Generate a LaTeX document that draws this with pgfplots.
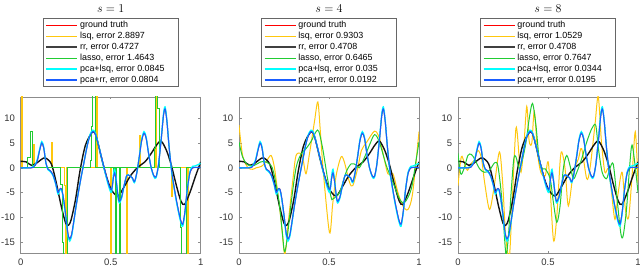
\documentclass[border=0pt]{standalone}
\usepackage{pgfplots}
\pgfplotsset{compat=1.18}
\usepackage{pgfplotstable}
\usepackage{fontspec}
\setmainfont{Liberation Sans}
\definecolor{gtred}{rgb}{1,0,0}
\definecolor{clsq}{rgb}{1,0.78,0.05}
\definecolor{crr}{rgb}{0.08,0.08,0.08}
\definecolor{crrleg}{rgb}{0.25,0.25,0.25}
\definecolor{classo}{rgb}{0.13,0.8,0.2}
\definecolor{cpl}{rgb}{0,1,1}
\definecolor{cpr}{rgb}{0.1,0.36,1}
\definecolor{axgray}{rgb}{0.55,0.55,0.55}
\definecolor{leggray}{rgb}{0.4,0.4,0.4}

\newcommand{\legline}[2]{%
  \pgfsetstrokecolor{#1}\pgfsetlinewidth{#2}%
  \pgfpathmoveto{\pgfpointorigin}\pgfpathlineto{\pgfpoint{31pt}{0pt}}%
  \pgfusepath{stroke}}

\pgfplotstableread{
x y
0 0
0.04 0
0.07 0.1
0.09 1.2
0.105 3.5
0.117 5.0
0.128 4.0
0.14 1.0
0.152 -0.3
0.165 -0.6
0.18 -1.5
0.195 -3.2
0.207 -5.0
0.217 -4.3
0.227 -4.3
0.237 -6.0
0.25 -9.5
0.262 -13.2
0.272 -14.35
0.282 -13.6
0.292 -11.5
0.31 -7.2
0.33 -3.0
0.35 0.8
0.37 4.5
0.385 6.5
0.4 7.3
0.415 6.8
0.44 3.5
0.465 -0.2
0.49 -3.5
0.505 -4.4
0.515 -2.0
0.522 -1.0
0.53 -2.5
0.545 -6.6
0.56 -6.0
0.575 -3.5
0.59 -1.5
0.605 -1.6
0.62 -2.0
0.632 -2.8
0.645 -1.0
0.66 2.5
0.672 5.5
0.685 7.0
0.697 6.0
0.71 3.0
0.725 0.0
0.74 -1.6
0.752 -1.8
0.765 0.5
0.78 5.5
0.793 10.5
0.802 11.9
0.812 9.5
0.825 4.0
0.84 -1.0
0.855 -4.5
0.87 -7.5
0.888 -10.5
0.9 -11.4
0.912 -9
0.925 -4.5
0.94 -1.0
0.955 0
0.97 0.1
1 0.1
}\gt

\pgfplotstableread{
x y
0 0
0.04 0
0.07 0.2
0.09 1.4
0.105 3.7
0.117 5.3
0.128 4.2
0.14 1.0
0.152 -0.4
0.165 -0.8
0.18 -1.6
0.195 -3.4
0.207 -5.3
0.217 -4.5
0.227 -4.5
0.237 -6.2
0.25 -9.8
0.262 -13.6
0.272 -14.8
0.282 -13.9
0.292 -11.7
0.31 -7.2
0.33 -3.0
0.35 0.8
0.37 4.6
0.385 6.7
0.4 7.6
0.415 7.0
0.44 3.5
0.465 -0.4
0.49 -3.9
0.505 -4.9
0.515 -1.5
0.522 -0.3
0.53 -2.2
0.545 -6.9
0.56 -6.2
0.575 -3.5
0.59 -1.5
0.605 -1.6
0.62 -2.1
0.632 -3.0
0.645 -1.0
0.66 2.6
0.672 5.7
0.685 7.3
0.697 6.2
0.71 3.0
0.725 0.0
0.74 -1.8
0.752 -2.0
0.765 0.5
0.78 5.7
0.793 10.8
0.802 12.3
0.812 9.7
0.825 4.0
0.84 -1.2
0.855 -4.7
0.87 -7.8
0.888 -10.8
0.9 -11.8
0.912 -9.2
0.925 -4.5
0.94 -0.8
0.955 0.3
0.97 0.4
1 0.9
}\pcalsq

\pgfplotstableread{
x y
0 1.3
0.03 1.2
0.06 0.5
0.09 1.0
0.115 1.7
0.137 2.0
0.17 0.8
0.195 -2.6
0.225 -7.7
0.25 -11.2
0.265 -11.6
0.28 -10.5
0.305 -6.3
0.33 -0.5
0.36 4.6
0.4 7.3
0.42 6.3
0.45 1.8
0.48 -2.2
0.505 -4.5
0.54 -5.7
0.575 -3.8
0.61 -1.6
0.65 0.1
0.69 1.2
0.725 2.9
0.755 4.6
0.78 5.4
0.81 3.5
0.837 0.5
0.865 -3.6
0.89 -6.7
0.91 -7.4
0.94 -5
0.97 -1.8
1 1.2
}\rr

\pgfplotstableread{
x y
0 0
0.003 0
0.003 20
0.009 20
0.009 0
0.073 0
0.073 4.8
0.079 4.8
0.079 0
0.169 0
0.169 5.2
0.175 5.2
0.175 0
0.243 0
0.243 -3.5
0.25 -3.5
0.25 -20
0.256 -20
0.256 0
0.421 0
0.421 20
0.428 20
0.428 0
0.498 0
0.498 -20
0.504 -20
0.504 0
0.586 0
0.586 -20
0.592 -20
0.592 0
0.662 0
0.662 6.5
0.668 6.5
0.668 0
0.749 0
0.749 20
0.755 20
0.755 0
0.836 0
0.836 -5.8
0.842 -5.8
0.842 0
0.927 0
0.927 -20
0.933 -20
0.933 0
1 0
}\lsqa

\pgfplotstableread{
x y
0 0
0.04 0
0.04 2
0.055 2
0.055 7.3
0.066 7.3
0.066 0
0.222 0
0.222 -3.4
0.232 -3.4
0.232 -15
0.24 -15
0.24 -20
0.258 -20
0.258 0
0.39 0
0.39 1.5
0.395 1.5
0.395 8.3
0.40 8.3
0.40 20
0.415 20
0.415 0
0.513 0
0.513 -1
0.52 -1
0.52 0
0.528 0
0.528 -20
0.534 -20
0.534 0
0.55 0
0.55 -20
0.556 -20
0.556 0
0.742 0
0.742 4
0.748 4
0.748 20
0.762 20
0.762 12
0.77 12
0.77 0
0.885 0
0.885 -12
0.895 -12
0.895 -20
0.922 -20
0.922 0
1 0
}\lassoa

\pgfplotstableread{
x y
0 8.6
0.02 2.5
0.048 0.1
0.075 -0.3
0.095 0
0.125 0.3
0.15 1.2
0.178 2.5
0.197 0
0.215 -5
0.233 -10.4
0.252 -17.2
0.262 -15.8
0.271 -12
0.3 -2.2
0.317 2.5
0.345 2.9
0.355 2.0
0.372 -1.2
0.39 2.5
0.405 6.0
0.42 9.5
0.438 13.3
0.452 7.3
0.47 -1.5
0.503 -13.1
0.52 -7.5
0.54 -1.5
0.567 2.2
0.585 1.2
0.614 -2.9
0.632 -3.6
0.66 0
0.68 3.5
0.71 5.2
0.753 7.4
0.78 6.0
0.807 1.8
0.827 -1.2
0.855 -1.2
0.883 -5
0.91 -7.7
0.939 -8.4
0.965 -5
1.0 7.3
}\lsqb

\pgfplotstableread{
x y
0 5.2
0.02 2.2
0.048 0.6
0.085 0.5
0.12 1.2
0.15 1.2
0.168 0.8
0.185 0
0.204 -2.9
0.223 -7
0.241 -13.1
0.252 -16.9
0.265 -15
0.29 -7
0.317 0
0.345 2.8
0.373 3.9
0.4 5.3
0.428 7.3
0.443 7.4
0.465 3.9
0.492 -2.2
0.512 -6.0
0.521 -6.3
0.558 -5.0
0.595 -0.9
0.623 0.8
0.65 0.6
0.668 0
0.696 2
0.725 4.6
0.753 6.7
0.78 5.2
0.818 0.5
0.855 -2.9
0.892 -6.3
0.92 -7
0.957 -4.3
0.985 1.8
1.0 5.2
}\lassob

\pgfplotstableread{
x y
0 -3.6
0.018 2.2
0.035 1.0
0.052 -0.5
0.07 0.8
0.09 1.5
0.11 3.5
0.13 2
0.148 -3
0.175 -8.4
0.2 -4
0.23 3.2
0.248 -3
0.265 -13.8
0.285 -18
0.3 -8
0.322 8
0.34 2
0.35 -0.9
0.365 3.9
0.382 12.4
0.395 5.5
0.41 5
0.424 11.4
0.442 3
0.46 -0.9
0.4845 -1.6
0.503 0.8
0.53 -14.5
0.549 -9.7
0.567 1.2
0.577 3.2
0.595 -0.2
0.613 -7.7
0.641 -0.9
0.669 1.8
0.687 3.9
0.715 -2.2
0.733 -0.2
0.761 8.7
0.779 14.4
0.797 5.2
0.816 -0.9
0.835 -0.2
0.853 -5
0.872 -10.4
0.89 -5
0.912 -0.9
0.93 -8.4
0.948 -10
0.967 -1.6
0.985 7.3
1.0 -3
}\lsqc

\pgfplotstableread{
x y
0 2.9
0.015 -1.2
0.033 -0.2
0.055 2.5
0.074 2.7
0.092 1.8
0.12 -0.2
0.147 -0.9
0.175 -0.5
0.203 1
0.221 0.5
0.24 -5
0.254 -11.8
0.267 -17.5
0.28 -13.8
0.295 -5
0.31 1.8
0.322 2.2
0.341 -0.2
0.359 1.8
0.378 5.2
0.396 10
0.414 13
0.433 8.6
0.451 1.8
0.47 -0.2
0.4845 -0.2
0.512 -2.2
0.53 -7
0.549 -11
0.567 -7.7
0.585 -0.2
0.604 2.5
0.622 0.5
0.641 -2.2
0.66 -0.9
0.687 1.8
0.715 5.2
0.743 7.9
0.765 8.6
0.78 3.9
0.801 -0.9
0.825 -2.2
0.843 -0.2
0.862 0.8
0.88 -5
0.904 -13.1
0.917 -13.8
0.936 -8.4
0.954 0.5
0.967 4.6
0.986 -0.2
1.0 -5
}\lassoc

\pgfplotsset{
  every axis title/.style={at={(0.5,1)}, anchor=base, yshift=84pt, font=\fontsize{13}{15}\selectfont},
  every axis legend/.style={at={(0.5,1.0641)}, anchor=south, shape=rectangle, fill=white,
      font=\fontsize{8.9}{10}\selectfont, draw=leggray, line width=0.5pt,
      inner xsep=2pt, inner ysep=1.3pt, cells={anchor=west},
      nodes={text height=6.3pt, text depth=1.8pt, inner ysep=1.4pt, inner xsep=2pt}},
  panel/.style={
    scale only axis, width=180pt, height=156pt,
    xmin=0, xmax=1, ymin=-17.2, ymax=14.3,
    xtick={0,0.5,1}, xticklabels={0,0.5,1},
    ytick={-15,-10,-5,0,5,10}, yticklabels={-15,-10,-5,0,5,10},
    tick align=inside, major tick length=2.5pt,
    axis line style={axgray, line width=0.5pt},
    every tick/.style={axgray, line width=0.5pt},
    tick label style={font=\fontsize{9.5}{10}\selectfont, text=black!80},
    xticklabel style={yshift=-2.3pt},
    yticklabel style={xshift=-2.3pt},
    legend cell align=left,
  },
  gtline/.style={color=gtred, line width=1.0pt, smooth},
  rrline/.style={color=crr, line width=1.4pt, smooth},
  plline/.style={color=cpl, line width=1.3pt, smooth},
  prline/.style={color=cpr, line width=1.0pt, smooth},
  lsqline/.style={color=clsq, line width=1.0pt},
  lassoline/.style={color=classo, line width=1.0pt},
}

\newcommand{\entries}[5]{%
  \addlegendimage{legend image code/.code={\legline{gtred}{1.2pt}}}
  \addlegendentry{\makebox[94pt][l]{ground truth}}
  \addlegendimage{legend image code/.code={\legline{clsq}{1.2pt}}}
  \addlegendentry{\makebox[94pt][l]{lsq, error #1}}
  \addlegendimage{legend image code/.code={\legline{crrleg}{1.9pt}}}
  \addlegendentry{\makebox[94pt][l]{rr, error #2}}
  \addlegendimage{legend image code/.code={\legline{classo}{1.2pt}}}
  \addlegendentry{\makebox[94pt][l]{lasso, error #3}}
  \addlegendimage{legend image code/.code={\legline{cpl}{1.2pt}}}
  \addlegendentry{\makebox[94pt][l]{pca+lsq, error #4}}
  \addlegendimage{legend image code/.code={\legline{cpr}{1.2pt}}}
  \addlegendentry{\makebox[94pt][l]{pca+rr, error #5}}}

\begin{document}
\begin{tikzpicture}
\path[use as bounding box] (0pt,0pt) rectangle (640pt,268pt);

\begin{axis}[panel, at={(20.7pt,15pt)}, title={$s=1$}]
\entries{2.8897}{0.4727}{1.4643}{0.0845}{0.0804}
\addplot[gtline, forget plot] table {\gt};
\addplot[lsqline, line width=0.9pt, forget plot] table {\lsqa};
\addplot[rrline, forget plot] table {\rr};
\addplot[lassoline, line width=0.9pt, forget plot] table {\lassoa};
\addplot[plline, forget plot] table {\pcalsq};
\addplot[prline, forget plot] table {\gt};
\end{axis}

\begin{axis}[panel, at={(239pt,15pt)}, title={$s=4$}]
\entries{0.9303}{0.4708}{0.6465}{0.035}{0.0192}
\addplot[gtline, forget plot] table {\gt};
\addplot[lsqline, smooth, forget plot] table {\lsqb};
\addplot[rrline, forget plot] table {\rr};
\addplot[lassoline, smooth, forget plot] table {\lassob};
\addplot[plline, forget plot] table {\pcalsq};
\addplot[prline, forget plot] table {\gt};
\end{axis}

\begin{axis}[panel, at={(458pt,15pt)}, title={$s=8$}]
\entries{1.0529}{0.4708}{0.7647}{0.0344}{0.0195}
\addplot[gtline, forget plot] table {\gt};
\addplot[lsqline, smooth, forget plot] table {\lsqc};
\addplot[rrline, forget plot] table {\rr};
\addplot[lassoline, smooth, forget plot] table {\lassoc};
\addplot[plline, forget plot] table {\pcalsq};
\addplot[prline, forget plot] table {\gt};
\end{axis}
\end{tikzpicture}
\end{document}
